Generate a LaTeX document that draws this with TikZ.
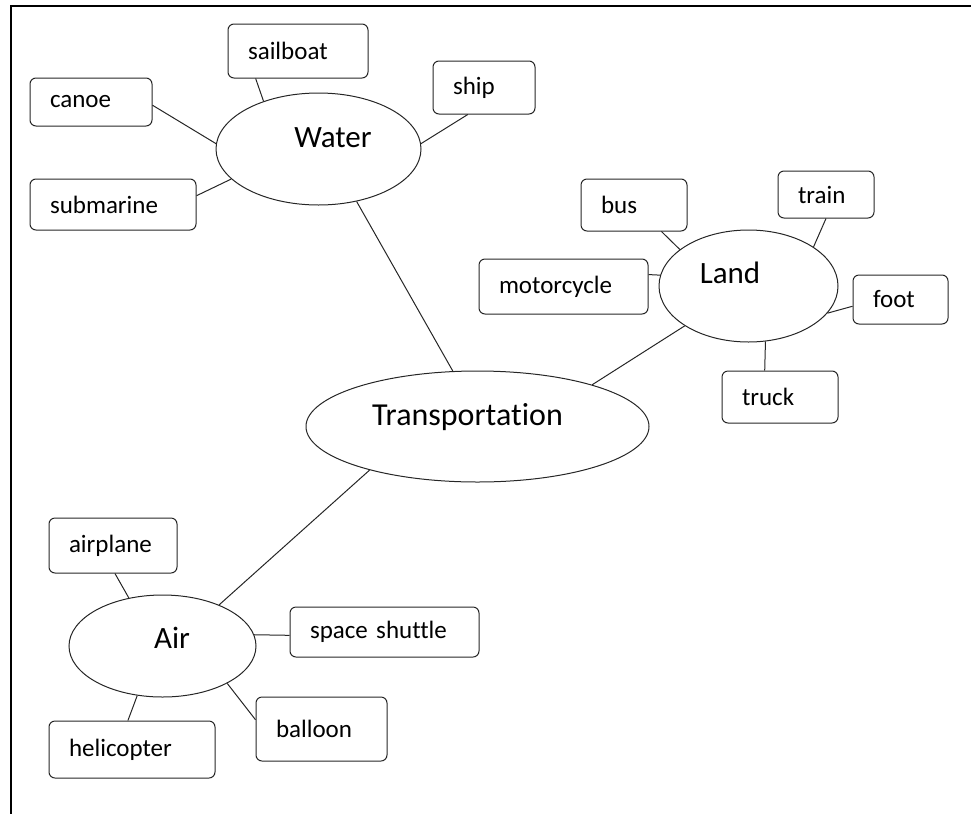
\documentclass[tikz,border=0pt]{standalone}
\usepackage{fontspec}
\setmainfont{Carlito}[Ligatures=CommonOff]
\usetikzlibrary{shapes.geometric}
\begin{document}
\begin{tikzpicture}[x=1pt,y=-1pt,line width=1pt,
  hub/.style={draw,ellipse,inner sep=0pt,black!85},
  hubtext/.style={black,font=\fontsize{31}{36}\selectfont},
  item/.style={draw,black!85,text=black,rounded corners=6pt,align=left,inner xsep=20pt,inner ysep=0pt,font=\fontsize{25}{30}\selectfont},
  link/.style={black!85}]
\useasboundingbox (0,0) rectangle (971,814);
\draw[line width=1.5pt] (971,6) -- (11,6) -- (11,814);
% hubs
\node[hub,minimum width=205pt,minimum height=112pt,label={[hubtext,xshift=14.5pt,yshift=11.5pt]center:Water}] (water) at (318.5,149) {};
\node[hub,minimum width=179pt,minimum height=112pt,label={[hubtext,xshift=-18.5pt,yshift=13pt]center:Land}] (land) at (748.5,286) {};
\node[hub,minimum width=343pt,minimum height=111pt,label={[hubtext,font=\fontsize{32}{38}\selectfont,xshift=-10pt,yshift=9pt]center:Transportation}] (trans) at (477.5,426.5) {};
\node[hub,minimum width=187pt,minimum height=102pt,label={[hubtext,xshift=9.5pt,yshift=8.5pt]center:Air}] (air) at (162.5,646) {};
% water
\node[item,text width=100pt,minimum height=54pt] (sailboat) at (298,51) {sailboat};
\node[item,text width=82pt,minimum height=48pt] (canoe) at (91,102) {canoe};
\node[item,text width=126pt,minimum height=51pt] (submarine) at (113,204.5) {submarine};
\node[item,text width=62pt,minimum height=53pt] (ship) at (484,87.5) {ship};
% land
\node[item,text width=66pt,minimum height=52pt] (bus) at (634,205) {bus};
\node[item,text width=56pt,minimum height=47pt] (train) at (826,194.5) {train};
\node[item,text width=129pt,minimum height=55pt] (motorcycle) at (563.5,286.5) {motorcycle};
\node[item,text width=55pt,minimum height=49pt] (foot) at (900.5,299.5) {foot};
\node[item,text width=76pt,minimum height=52pt] (truck) at (780,397) {truck};
% air
\node[item,text width=88pt,minimum height=55pt] (airplane) at (113,545.5) {airplane};
\node[item,text width=149pt,minimum height=50pt] (shuttle) at (384.5,632) {space shuttle};
\node[item,text width=91pt,minimum height=64pt] (balloon) at (321.5,729) {balloon};
\node[item,text width=126pt,minimum height=57pt] (helicopter) at (132,749.5) {helicopter};
% connectors
\draw[link] (sailboat.213) -- (water.139);
\draw[link] (canoe.-3) -- (water.177);
\draw[link] (submarine.6) -- (water.199);
\draw[link] (ship.239) -- (water.3);
\draw[link] (water.-54) -- (trans.114);
\draw[link] (bus.-44) -- (land.152);
\draw[link] (train.-90) -- (land.31);
\draw[link] (motorcycle.8) -- (land.173);
\draw[link] (foot.188) -- (land.-19);
\draw[link] (truck.120) -- (land.-73);
\draw[link] (land.212) -- (trans.20);
\draw[link] (airplane.-86) -- (air.125);
\draw[link] (air.36) -- (trans.202);
\draw[link] (shuttle.182) -- (air.7);
\draw[link] (balloon.172) -- (air.-30);
\draw[link] (helicopter.98) -- (air.243);
\end{tikzpicture}
\end{document}
